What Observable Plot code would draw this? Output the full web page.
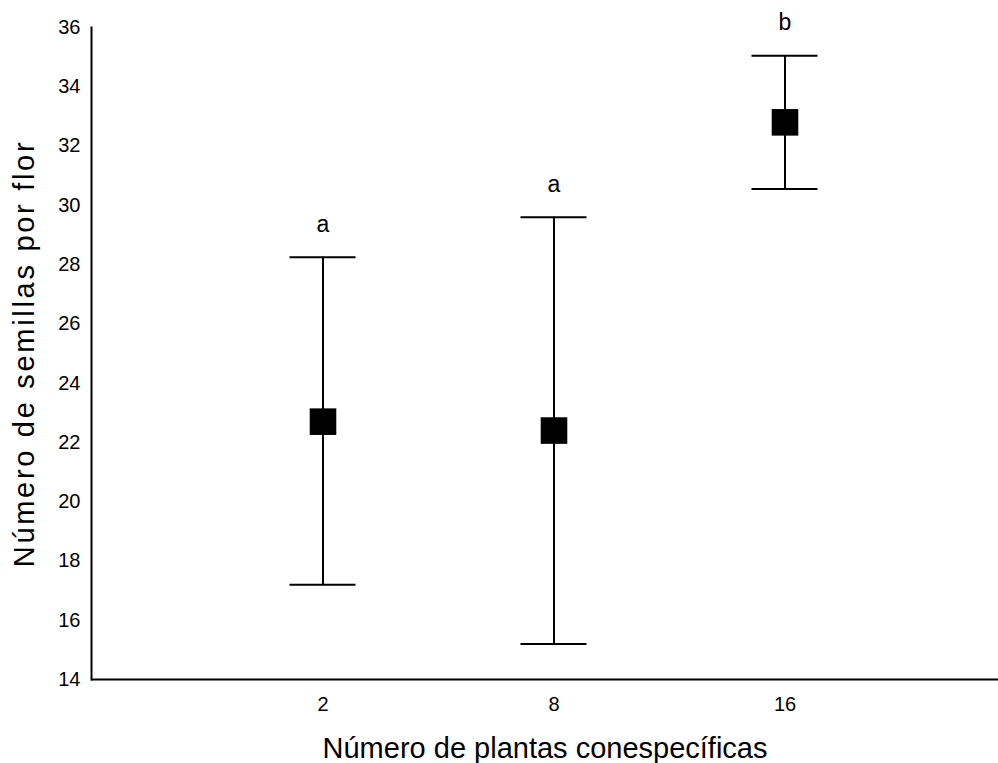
<!DOCTYPE html>
<html><head><meta charset="utf-8">
<script src="https://cdn.jsdelivr.net/npm/d3@7"></script>
<script src="https://cdn.jsdelivr.net/npm/@observablehq/plot@0.6"></script>
<style>
body{margin:0;background:#fff}
#chart svg text {font-size:20px !important}
#chart svg g[aria-label="y-axis label"] text {font-size:29px !important; letter-spacing:2.7px}
#chart svg g[aria-label="x-axis label"] text {font-size:29px !important}
#chart svg g[aria-label="text"] text {font-size:23px !important}
</style>
</head><body><div id="chart"></div>
<script>
const categories = ["2", "8", "16"];
const means = [22.7, 22.4, 32.8];
const lower = [17.2, 15.2, 30.55];
const upper = [28.25, 29.6, 35.05];
const letters = ["a", "a", "b"];
const yTicks = [14, 16, 18, 20, 22, 24, 26, 28, 30, 32, 34, 36];

const data = categories.map((c, i) => ({c, m: means[i], lo: lower[i], hi: upper[i], l: letters[i]}));
const font = "Liberation Sans, Arial, sans-serif";

const chart = Plot.plot({
  width: 998, height: 763,
  marginLeft: 91, marginRight: 0, marginTop: 27, marginBottom: 84,
  style: {fontFamily: font, background: "#fff", color: "#000"},
  x: {type: "band", domain: categories, range: [206.5, 899.5], padding: 0},
  y: {domain: [14, 36], ticks: yTicks},
  marks: [
    Plot.axisY({ticks: yTicks, tickSize: 0, tickPadding: 11, label: "Número de semillas por flor", labelAnchor: "center", labelArrow: "none", labelOffset: 78}),
    Plot.axisX({tickSize: 0, tickPadding: 17, label: "Número de plantas conespecíficas", labelAnchor: "center", labelArrow: "none", labelOffset: 78}),
    Plot.frame({anchor: "left", strokeWidth: 2}),
    Plot.ruleY([14], {strokeWidth: 2}),
    Plot.ruleX(data, {x: "c", y1: "lo", y2: "hi", strokeWidth: 2}),
    Plot.tickY(data, {x: "c", y: "lo", strokeWidth: 2, insetLeft: 82.5, insetRight: 82.5}),
    Plot.tickY(data, {x: "c", y: "hi", strokeWidth: 2, insetLeft: 82.5, insetRight: 82.5}),
    Plot.dot(data, {x: "c", y: "m", symbol: "square", r: 15, fill: "#000", stroke: "none"}),
    Plot.text(data, {x: "c", y: "hi", text: "l", dy: -33})
  ]
});
document.getElementById("chart").append(chart);
</script></body></html>
